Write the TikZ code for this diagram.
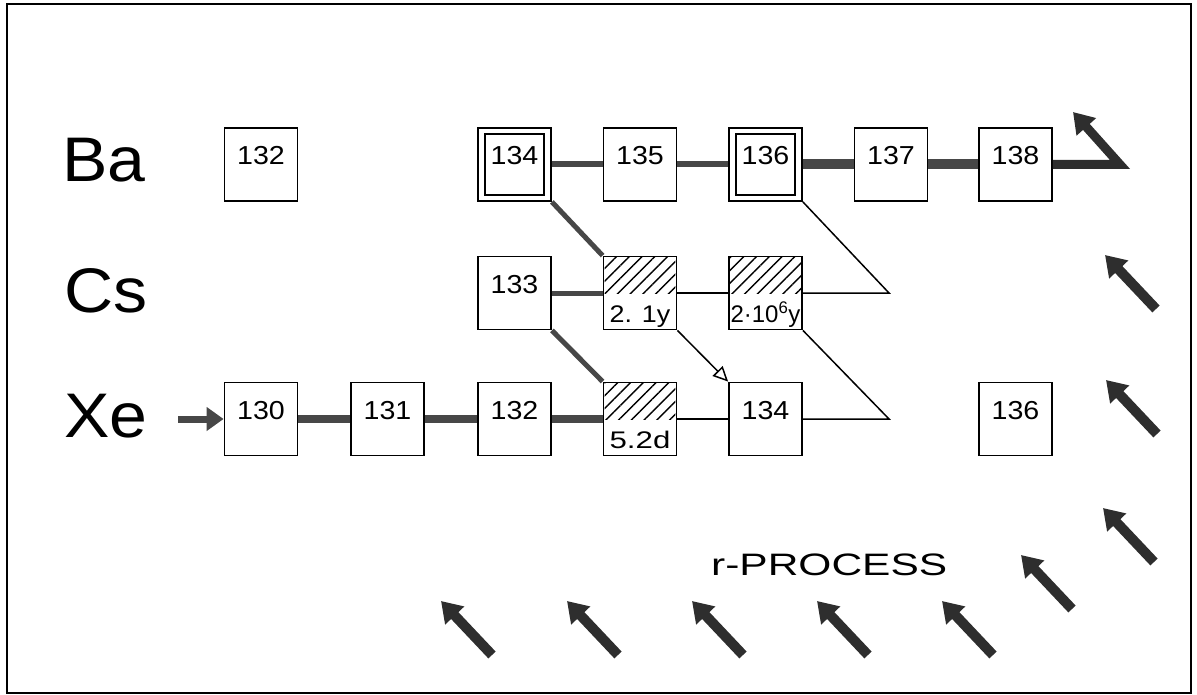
\documentclass[tikz,border=0pt]{standalone}
\usepackage{fontspec}
\setmainfont{Liberation Sans}
\usetikzlibrary{arrows.meta,patterns.meta,calc}
\newcommand{\boxnum}[1]{\scalebox{1.1}[1]{#1}}
\begin{document}
\begin{tikzpicture}[x=1pt,y=-1pt,
  box/.style={draw,line width=1.8pt,fill=white,minimum size=73pt,inner sep=0pt,
    text height=19pt,text depth=19pt,font=\fontsize{26}{26}\selectfont},
  lbl/.style={inner sep=0pt,font=\fontsize{24}{24}\selectfont},
  elem/.style={inner sep=0pt,anchor=base west,font=\fontsize{63}{63}\selectfont},
  flow/.style={draw=black!72,line width=#1},
  thinln/.style={draw=black,line width=1.5pt},
  rarrow/.style={draw=black!82,line width=10pt,-{Triangle[width=25pt,length=20pt]}},
  hatch/.style={pattern={Lines[angle=45,distance=9pt,line width=1.4pt]}}
]
\useasboundingbox (0,0) rectangle (1197,695);
\draw[line width=1.5pt] (7,4) rectangle (1191,693);

% element labels
\node[elem] (lba) at (62,182) {\scalebox{1.08}[1]{Ba}};
\node[elem] (lcs) at (64,312) {\scalebox{1.08}[1]{Cs}};
\node[elem] (lxe) at (64,437) {\scalebox{1.08}[1]{Xe}};

% Ba row
\node[box] (ba132) at (261,164.5) {\boxnum{132}};
\node[box] (ba134) at (514.5,164.5) {\boxnum{134}};
\node[box] (ba135) at (640,164.5) {\boxnum{135}};
\node[box] (ba136) at (765.5,164.5) {\boxnum{136}};
\node[box] (ba137) at (891,164.5) {\boxnum{137}};
\node[box] (ba138) at (1015.5,164.5) {\boxnum{138}};
\draw[line width=2.2pt] ($(ba134.north west)+(8,7)$) rectangle ($(ba134.south east)+(-8,-7)$);
\draw[line width=2.2pt] ($(ba136.north west)+(8,7)$) rectangle ($(ba136.south east)+(-8,-7)$);

% Cs row
\node[box] (cs133) at (514.5,293) {\boxnum{133}};
\node[box] (cs134) at (640,293) {};
\node[box] (cs135) at (765.5,293) {};

% Xe row
\node[box] (xe130) at (261,419) {\boxnum{130}};
\node[box] (xe131) at (387.5,419) {\boxnum{131}};
\node[box] (xe132) at (514.5,419) {\boxnum{132}};
\node[box] (xe133) at (640,419) {};
\node[box] (xe134) at (765.5,419) {\boxnum{134}};
\node[box] (xe136) at (1015.5,419) {\boxnum{136}};

% hatched (radioactive) boxes
\fill[hatch] ($(cs134.north west)+(2,2)$) rectangle ($(cs134.east)+(-2,0)$);
\fill[hatch] ($(cs135.north west)+(2,2)$) rectangle ($(cs135.east)+(-2,0)$);
\fill[hatch] ($(xe133.north west)+(2,2)$) rectangle ($(xe133.east)+(-2,0)$);
\node[lbl,anchor=base] (t134cs) at ($(cs134.south)+(0,-8)$) {\scalebox{1.12}[1]{2. 1y}};
\node[lbl,anchor=base] (t135cs) at ($(cs135.south)+(0,-8)$) {2·10\textsuperscript{6}y};
\node[lbl,anchor=base] (t133xe) at ($(xe133.south)+(0,-8)$) {\scalebox{1.3}[1]{5.2d}};

% Ba connections
\draw[flow=6pt] (ba134) -- (ba135);
\draw[flow=6pt] (ba135) -- (ba136);
\draw[flow=10pt] (ba136) -- (ba137);
\draw[flow=10pt] (ba137) -- (ba138);
\coordinate (baturn) at (1120,164.5);
\coordinate (batip) at (1073,112);
\draw[flow=9pt,draw=black!82,line join=miter,-{Triangle[width=25pt,length=20pt]}] (ba138.east) -- (baturn) -- (batip);

% Cs connections
\draw[flow=5pt] (cs133) -- (cs134);
\draw[thinln] (cs134) -- (cs135);
\coordinate (csturn) at (889,293);
\draw[thinln] (cs135.east) -- (csturn) -- (ba136.south east);
\draw[flow=5pt] (ba134.south east) -- (cs134.north west);
\draw[flow=5pt] (cs133.south east) -- (xe133.north west);
\draw[thinln,-{Triangle[open,fill=white,width=14pt,length=15pt]}] (cs134.south east) -- (xe134.north west);
\coordinate (xeturn) at (889,419);
\draw[thinln] (cs135.south east) -- (xeturn) -- (xe134.east);

% Xe connections
\coordinate (xein) at (178,419);
\draw[flow=7pt,-{Triangle[width=23pt,length=17pt]}] (xein) -- (xe130.west);
\draw[flow=8pt] (xe130) -- (xe131);
\draw[flow=8pt] (xe131) -- (xe132);
\draw[flow=8pt] (xe132) -- (xe133);
\draw[thinln] (xe133) -- (xe134);

% r-process
\node[inner sep=0pt,anchor=base west,font=\fontsize{31}{31}\selectfont] (rproc) at (711,575) {\scalebox{1.37}[1]{r-PROCESS}};
\foreach \tx/\ty in {441/601,567/601,692/601,817/601,942/601,1021/555,1103/508,1106/380,1105/255}
  \draw[rarrow] (\tx+51,\ty+54) -- (\tx,\ty);
\end{tikzpicture}
\end{document}
